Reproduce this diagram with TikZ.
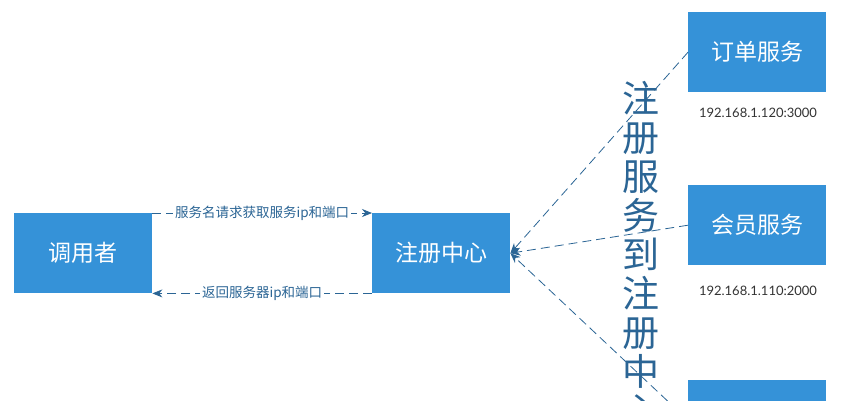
\documentclass[tikz,border=0pt]{standalone}
\usepackage{fontspec}
\setmainfont{Noto Sans CJK SC}
\newfontfamily\ipfont{Lato}
\usetikzlibrary{arrows.meta}
\definecolor{boxblue}{HTML}{3592D8}
\definecolor{linkblue}{HTML}{2B6595}
\definecolor{iptext}{HTML}{333333}
\tikzset{
  svcbox/.style={fill=boxblue, draw=none, minimum width=138pt, minimum height=80pt, inner sep=0pt, anchor=north west, text=white, font=\fontsize{23}{28}\selectfont},
  link/.style={draw=linkblue, line width=0.8pt, dash pattern=on 9pt off 5pt, -{Stealth[length=10pt,width=8pt]}},
  linklabel/.style={fill=white, inner sep=2pt, text=linkblue, font=\fontsize{13.5}{16}\selectfont},
  iplabel/.style={text=iptext, font=\ipfont\fontsize{13}{16}\selectfont},
  vtext/.style={text=linkblue, align=center, inner sep=0pt, anchor=north, font=\fontsize{37}{39}\selectfont}
}
\begin{document}
\begin{tikzpicture}[x=1pt,y=-1pt]
\useasboundingbox (0,0) rectangle (842,400);
\clip (0,0) rectangle (842,400);
\fill[white] (0,0) rectangle (842,400);
\node[svcbox] (caller) at (14,213) {调用者};
\node[svcbox] (registry) at (372,213) {注册中心};
\node[svcbox] (order) at (688,12) {订单服务};
\node[svcbox] (member) at (688,185) {会员服务};
\node[svcbox] (third) at (688,380) {};
\node[iplabel] (ip1) at (758,113) {192.168.1.120:3000};
\node[iplabel] (ip2) at (758,291) {192.168.1.110:2000};
\node[vtext] (vt) at (641,81) {注\\册\\服\\务\\到\\注\\册\\中\\心};
\draw[link] (order.west) -- (registry.east);
\draw[link] (member.west) -- (registry.east);
\draw[link] (third.west) -- (registry.east);
\draw[link] (caller.north east) -- node[linklabel] (req) {服务名请求获取服务ip和端口} (registry.north west);
\draw[link] (registry.south west) -- node[linklabel] (resp) {返回服务器ip和端口} (caller.south east);
\end{tikzpicture}
\end{document}
